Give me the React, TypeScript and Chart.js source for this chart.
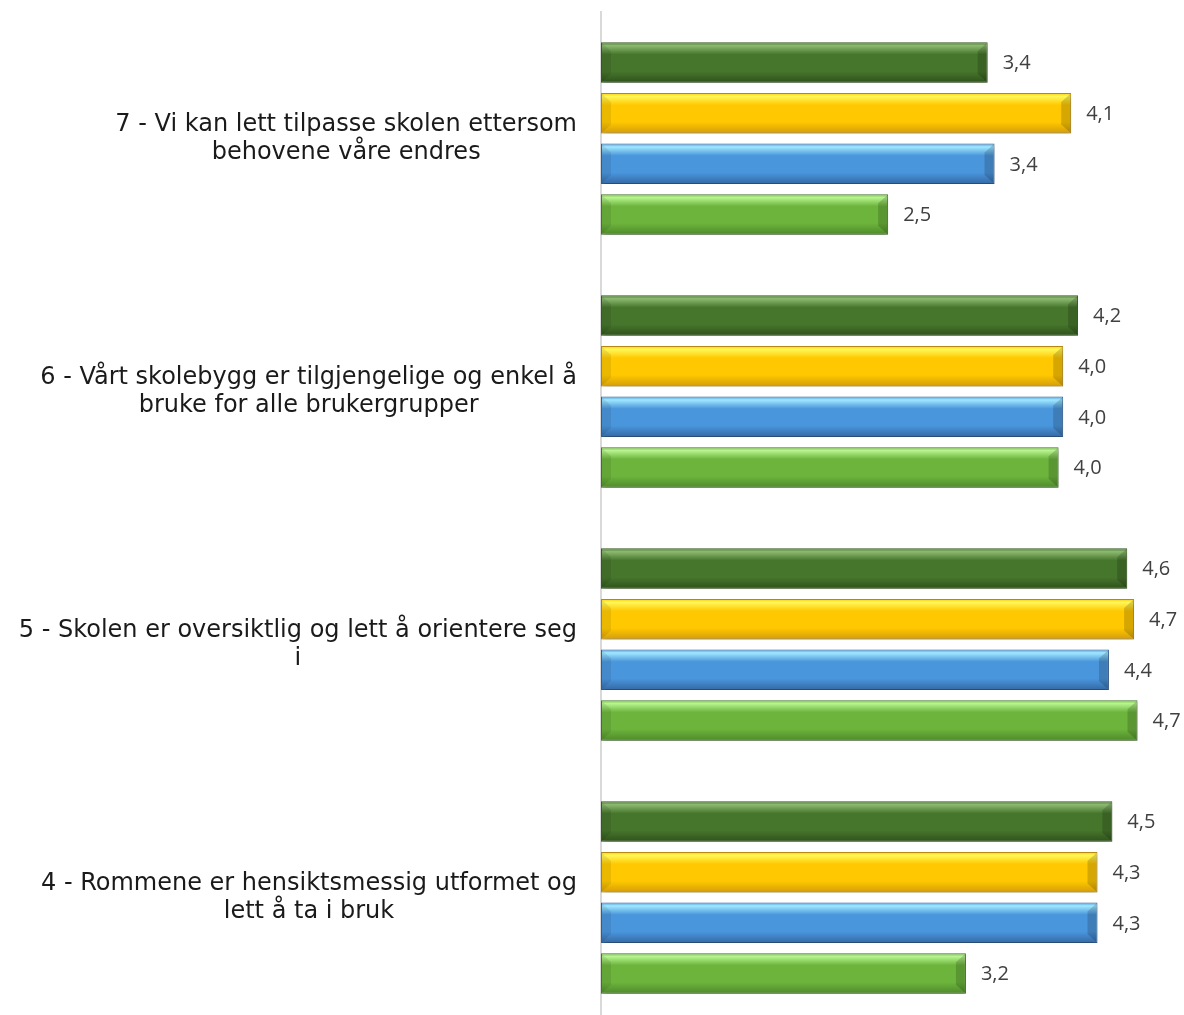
import React, { useEffect, useRef } from "react";
import { Chart, registerables } from "chart.js";

Chart.register(...registerables);

const categories: string[][] = [
  ["7 - Vi kan lett tilpasse skolen ettersom", "behovene våre endres"],
  ["6 - Vårt skolebygg er tilgjengelige og enkel å", "bruke for alle brukergrupper"],
  ["5 - Skolen er oversiktlig og lett å orientere seg", "i"],
  ["4 - Rommene er hensiktsmessig utformet og", "lett å ta i bruk"],
];

const seriesA: number[] = [3.38, 4.17, 4.6, 4.47];
const seriesB: number[] = [4.11, 4.04, 4.66, 4.34];
const seriesC: number[] = [3.44, 4.04, 4.44, 4.34];
const seriesD: number[] = [2.51, 4.0, 4.69, 3.19];

const palettes = [
  { top: "#8cba70", mid: "#46752c", bot: "#2e521a", border: "#3a5e24" },
  { top: "#fff85a", mid: "#ffc800", bot: "#d49c0a", border: "#b88a12" },
  { top: "#a0e8ff", mid: "#4a96dc", bot: "#3468a4", border: "#35639a" },
  { top: "#b8f590", mid: "#6cb43c", bot: "#4e8a2a", border: "#4a7a2c" },
];

const gradientPlugin = {
  id: "bevelGradient",
  beforeDatasetsDraw(chart: any) {
    const ctx = chart.ctx;
    chart.data.datasets.forEach((_: any, di: number) => {
      const meta = chart.getDatasetMeta(di);
      const p = palettes[di];
      meta.data.forEach((el: any) => {
        const h = el.height;
        const top = el.y - h / 2;
        const g = ctx.createLinearGradient(0, top, 0, top + h);
        g.addColorStop(0, p.mid);
        g.addColorStop(0.08, p.top);
        g.addColorStop(0.3, p.mid);
        g.addColorStop(0.72, p.mid);
        g.addColorStop(1, p.bot);
        if (el.options) el.options.backgroundColor = g;
      });
    });
    ctx.save();
    ctx.shadowColor = "rgba(0,0,0,0.3)";
    ctx.shadowBlur = 5;
    ctx.shadowOffsetY = 3;
    ctx.shadowOffsetX = 1;
  },
  afterDatasetsDraw(chart: any) {
    const ctx = chart.ctx;
    ctx.restore();
    chart.data.datasets.forEach((_: any, di: number) => {
      const meta = chart.getDatasetMeta(di);
      meta.data.forEach((el: any) => {
        const h = el.height;
        const top = el.y - h / 2;
        const bot = el.y + h / 2;
        const l = el.base + 1;
        const r = el.x - 1;
        const b = 9;
        ctx.save();
        ctx.fillStyle = "rgba(0,0,0,0.08)";
        ctx.beginPath();
        ctx.moveTo(l, top + 1);
        ctx.lineTo(l + b, top + b);
        ctx.lineTo(l + b, bot - b);
        ctx.lineTo(l, bot - 1);
        ctx.closePath();
        ctx.fill();
        ctx.fillStyle = "rgba(0,0,0,0.16)";
        ctx.beginPath();
        ctx.moveTo(r, top + 1);
        ctx.lineTo(r - b, top + b);
        ctx.lineTo(r - b, bot - b);
        ctx.lineTo(r, bot - 1);
        ctx.closePath();
        ctx.fill();
        ctx.restore();
      });
    });
    ctx.save();
    ctx.font = "20px 'Open Sans'";
    ctx.fillStyle = "#404040";
    ctx.textAlign = "left";
    ctx.textBaseline = "middle";
    chart.data.datasets.forEach((ds: any, di: number) => {
      const meta = chart.getDatasetMeta(di);
      meta.data.forEach((el: any, i: number) => {
        const v = ds.data[i] as number;
        ctx.fillText(v.toFixed(1).replace(".", ","), el.x + 15, el.y + 1);
      });
    });
    ctx.restore();
  },
  afterDraw(chart: any) {
    const ctx = chart.ctx;
    const yScale = chart.scales.y;
    ctx.save();
    ctx.font = "24px 'DejaVu Sans'";
    ctx.fillStyle = "#1a1a1a";
    ctx.textAlign = "center";
    ctx.textBaseline = "middle";
    const right = chart.chartArea.left - 24;
    const lh = 28;
    categories.forEach((lines, i) => {
      const y = yScale.getPixelForTick(i);
      const w = Math.max(...lines.map((t) => ctx.measureText(t).width));
      const cx = right - w / 2;
      lines.forEach((t, j) => {
        ctx.fillText(t, cx, y + (j - (lines.length - 1) / 2) * lh);
      });
    });
    ctx.restore();
  },
};

export default function App() {
  const ref = useRef<HTMLCanvasElement | null>(null);
  useEffect(() => {
    document.body.style.margin = "0";
    const canvas = ref.current!;
    const mk = (label: string, data: number[], i: number) => ({
      label,
      data,
      backgroundColor: () => palettes[i].mid,
      borderColor: palettes[i].border,
      borderWidth: 1,
      borderSkipped: false,
      barPercentage: 0.8,
    });
    const chart = new Chart(canvas, {
      type: "bar",
      data: {
        labels: categories.map((c) => c.join(" ")),
        datasets: [
          mk("A", seriesA, 0),
          mk("B", seriesB, 1),
          mk("C", seriesC, 2),
          mk("D", seriesD, 3),
        ],
      },
      options: {
        indexAxis: "y",
        responsive: false,
        animation: false,
        devicePixelRatio: 1,
        layout: { padding: { left: 593, right: 11, top: 12, bottom: 0 } },
        plugins: { legend: { display: false }, tooltip: { enabled: false } },
        scales: {
          x: { display: false, min: 0, max: 5 },
          y: {
            display: true,
            grid: { display: false },
            ticks: { display: false },
            border: { display: true, color: "#d9d9d9", width: 2 },
          },
        },
      } as any,
      plugins: [gradientPlugin],
    });
    return () => chart.destroy();
  }, []);
  return <canvas ref={ref} width={1184} height={1024} style={{ display: "block" }} />;
}
